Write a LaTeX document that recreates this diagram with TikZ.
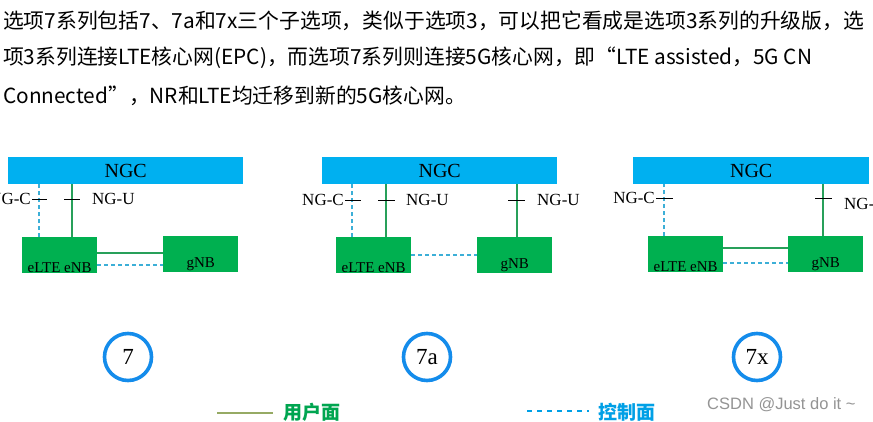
\documentclass[tikz,border=0pt]{standalone}
\usepackage{fontspec}
\setmainfont{Liberation Serif}
\newfontfamily\cjk{Noto Sans CJK SC}
\newfontfamily\wmfont{Liberation Sans}
\definecolor{ngcblue}{RGB}{0,176,240}
\definecolor{boxgreen}{RGB}{0,176,80}
\definecolor{upgreen}{RGB}{40,160,90}
\definecolor{cpblue}{RGB}{60,175,215}
\definecolor{ringblue}{RGB}{20,140,235}
\definecolor{legolive}{RGB}{150,170,100}
\definecolor{leggreen}{RGB}{0,165,80}
\definecolor{legblue}{RGB}{0,160,230}
\begin{document}
\begin{tikzpicture}[x=1pt,y=-1pt,
  ngc/.style={fill=ngcblue,inner sep=0,anchor=north west,minimum height=27pt,
    font=\fontsize{20}{22}\selectfont},
  ran/.style={fill=boxgreen,inner sep=0,anchor=north west,minimum width=75pt,minimum height=36pt},
  up/.style={draw=upgreen,line width=1.3pt},
  cp/.style={draw=cpblue,line width=1.3pt,dash pattern=on 4pt off 3pt},
  tk/.style={draw=black,line width=0.9pt},
  lab/.style={font=\fontsize{17}{19}\selectfont,inner sep=1pt},
  blab/.style={font=\fontsize{15}{17}\selectfont},
  ring/.style={circle,draw=ringblue,line width=3.6pt,minimum size=47pt,inner sep=0,
    font=\fontsize{23}{25}\selectfont},
  txt/.style={font=\cjk\fontsize{20.8}{23}\selectfont,anchor=west,inner sep=0}]
  \useasboundingbox[fill=white] (0,0) rectangle (873,421);
  % text
  \node[txt] (l1) at (3,21) {选项7系列包括7、7a和7x三个子选项，类似于选项3，可以把它看成是选项3系列的升级版，选};
  \node[txt] (l2) at (3,58) {项3系列连接LTE核心网(EPC)，而选项7系列则连接5G核心网，即“LTE assisted，5G CN};
  \node[txt] (l3) at (3,96) {Connected”，NR和LTE均迁移到新的5G核心网。};
  % option 7
  \node[ngc,minimum width=235pt] (ngc1) at (8,157) {NGC};
  \node[ran,label={[blab,anchor=south,inner sep=1pt]south:eLTE eNB}] (enb1) at (22,237) {};
  \node[ran,label={[blab,anchor=south,inner sep=1pt]south:gNB}] (gnb1) at (163,236) {};
  \draw[cp] ([xshift=17pt]enb1.north west) -- ([xshift=17pt]enb1.north west |- ngc1.south)
    coordinate[pos=0.72] (t1);
  \draw[up] ([xshift=50pt]enb1.north west) -- ([xshift=50pt]enb1.north west |- ngc1.south)
    coordinate[pos=0.72] (t2);
  \draw[tk] ([xshift=-7pt]t1) -- ([xshift=8pt]t1);
  \draw[tk] ([xshift=-8pt]t2) -- ([xshift=8pt]t2);
  \node[lab,anchor=east] (ngc1c) at ([xshift=-7pt]t1) {NG-C};
  \node[lab,anchor=west] (ngc1u) at ([xshift=19pt]t2) {NG-U};
  \draw[up] ([yshift=-16pt]enb1.north east) -- ([yshift=-16pt]enb1.north east -| gnb1.west);
  \draw[cp] ([yshift=-28pt]enb1.north east) -- ([yshift=-28pt]enb1.north east -| gnb1.west);
  % option 7a
  \node[ngc,minimum width=235pt] (ngc2) at (322,157) {NGC};
  \node[ran,label={[blab,anchor=south,inner sep=1pt]south:eLTE eNB}] (enb2) at (336,237) {};
  \node[ran,label={[blab,anchor=south,inner sep=1pt]south:gNB}] (gnb2) at (477,237) {};
  \draw[cp] ([xshift=16pt]enb2.north west) -- ([xshift=16pt]enb2.north west |- ngc2.south)
    coordinate[pos=0.70] (t3);
  \draw[up] ([xshift=50pt]enb2.north west) -- ([xshift=50pt]enb2.north west |- ngc2.south)
    coordinate[pos=0.70] (t4);
  \draw[up] ([xshift=40pt]gnb2.north west) -- ([xshift=40pt]gnb2.north west |- ngc2.south)
    coordinate[pos=0.70] (t5);
  \draw[tk] ([xshift=-7pt]t3) -- ([xshift=9pt]t3);
  \draw[tk] ([xshift=-8pt]t4) -- ([xshift=9pt]t4);
  \draw[tk] ([xshift=-9pt]t5) -- ([xshift=8pt]t5);
  \node[lab,anchor=east] (ngc2c) at ([xshift=-7pt]t3) {NG-C};
  \node[lab,anchor=west] (ngc2u) at ([xshift=19pt]t4) {NG-U};
  \node[lab,anchor=west] (ngc2v) at ([xshift=19pt]t5) {NG-U};
  \draw[cp] ([yshift=-18pt]enb2.north east) -- ([yshift=-18pt]enb2.north east -| gnb2.west);
  % option 7x
  \node[ngc,minimum width=236pt] (ngc3) at (633,157) {NGC};
  \node[ran,label={[blab,anchor=south,inner sep=1pt]south:eLTE eNB}] (enb3) at (648,236) {};
  \node[ran,label={[blab,anchor=south,inner sep=1pt]south:gNB}] (gnb3) at (788,236) {};
  \draw[cp] ([xshift=16pt]enb3.north west) -- ([xshift=16pt]enb3.north west |- ngc3.south)
    coordinate[pos=0.73] (t6);
  \draw[up] ([xshift=35pt]gnb3.north west) -- ([xshift=35pt]gnb3.north west |- ngc3.south)
    coordinate[pos=0.73] (t7);
  \draw[tk] ([xshift=-8pt]t6) -- ([xshift=9pt]t6);
  \draw[tk] ([xshift=-8pt]t7) -- ([xshift=9pt]t7);
  \node[lab,anchor=east] (ngc3c) at ([xshift=-8pt]t6) {NG-C};
  \node[lab,anchor=west] (ngc3u) at ([xshift=20pt,yshift=-6pt]t7) {NG-U};
  \draw[up] ([yshift=-12pt]enb3.north east) -- ([yshift=-12pt]enb3.north east -| gnb3.west);
  \draw[cp] ([yshift=-27pt]enb3.north east) -- ([yshift=-27pt]enb3.north east -| gnb3.west);
  % option rings
  \foreach \cx/\lab/\nm in {128/7/o1,427/7a/o2,757/7x/o3}
    \node[ring] (\nm) at (\cx,357) {\lab};
  % legend
  \coordinate (lu0) at (217,413);
  \coordinate (lu1) at (273,413);
  \draw[draw=legolive,line width=2.4pt] (lu0) -- (lu1);
  \node[font=\cjk\bfseries\fontsize{19}{21}\selectfont,text=leggreen,anchor=west,inner sep=0]
    (lgu) at (283,412) {用户面};
  \coordinate (lc0) at (527,411);
  \coordinate (lc1) at (589,411);
  \draw[draw=legblue,line width=1.5pt,dash pattern=on 5pt off 5pt] (lc0) -- (lc1);
  \node[font=\cjk\bfseries\fontsize{19}{21}\selectfont,text=legblue,anchor=west,inner sep=0]
    (lgc) at (598,412) {控制面};
  \node[font=\wmfont\fontsize{16.5}{18}\selectfont,text=black!42,anchor=west,inner sep=0]
    (wm) at (707,405) {CSDN @Just do it \textasciitilde};
\end{tikzpicture}
\end{document}
